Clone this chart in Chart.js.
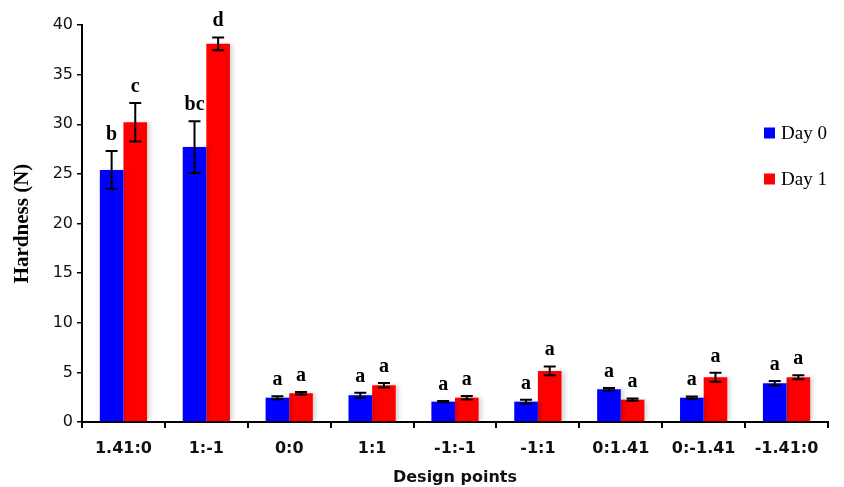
<!DOCTYPE html>
<html>
<head>
<meta charset="utf-8">
<script src="https://cdn.jsdelivr.net/npm/chart.js@4/dist/chart.umd.min.js"></script>
<style>
  html, body { margin: 0; padding: 0; background: #ffffff; }
  #wrap { width: 844px; height: 487px; position: relative; }
</style>
</head>
<body>
<div id="wrap"><canvas id="chart" width="844" height="487"></canvas></div>
<script>
// Design points (x categories)
const categories = ['1.41:0', '1:-1', '0:0', '1:1', '-1:-1', '-1:1', '0:1.41', '0:-1.41', '-1.41:0'];

// Hardness (N), mean values
const day0 = [25.4, 27.7, 2.45, 2.7, 2.05, 2.05, 3.3, 2.45, 3.9];
const day1 = [30.2, 38.1, 2.9, 3.7, 2.45, 5.15, 2.25, 4.5, 4.5];

// Standard deviations
const day0Err = [1.9, 2.6, 0.15, 0.25, 0.07, 0.2, 0.12, 0.12, 0.22];
const day1Err = [1.95, 0.65, 0.12, 0.22, 0.18, 0.45, 0.12, 0.45, 0.2];

// Significance letters
const day0Letters = ['b', 'bc', 'a', 'a', 'a', 'a', 'a', 'a', 'a'];
const day1Letters = ['c', 'd', 'a', 'a', 'a', 'a', 'a', 'a', 'a'];

// Y axis ticks
const yTicks = [0, 5, 10, 15, 20, 25, 30, 35, 40];

const seriesNames = ['Day 0', 'Day 1'];
const seriesColors = ['#0000ff', '#ff0000'];
const errs = [day0Err, day1Err];
const letters = [day0Letters, day1Letters];

// Soft shadow behind the bars
const barShadow = {
  id: 'barShadow',
  beforeDatasetsDraw(chart) {
    const ctx = chart.ctx;
    ctx.save();
    ctx.shadowColor = 'rgba(0,0,0,0.15)';
    ctx.shadowBlur = 4;
    ctx.shadowOffsetX = 3;
    ctx.shadowOffsetY = 0;
  },
  afterDatasetsDraw(chart) {
    chart.ctx.restore();
  }
};

// Error bars and letters above each bar
const errorBars = {
  id: 'errorBars',
  afterDatasetsDraw(chart) {
    const ctx = chart.ctx;
    const y = chart.scales.y;
    ctx.save();
    chart.data.datasets.forEach((ds, i) => {
      const meta = chart.getDatasetMeta(i);
      meta.data.forEach((bar, j) => {
        const v = ds.data[j];
        const e = errs[i][j];
        const top = y.getPixelForValue(v + e);
        const bot = y.getPixelForValue(v - e);
        const x = bar.x;
        ctx.strokeStyle = '#000000';
        ctx.lineWidth = 2;
        ctx.beginPath();
        ctx.moveTo(x, top); ctx.lineTo(x, bot);
        ctx.moveTo(x - 6, top); ctx.lineTo(x + 6, top);
        ctx.moveTo(x - 6, bot); ctx.lineTo(x + 6, bot);
        ctx.stroke();
        ctx.fillStyle = '#000000';
        ctx.font = 'bold 20px "Liberation Serif", "Times New Roman", serif';
        ctx.textAlign = 'center';
        ctx.textBaseline = 'alphabetic';
        ctx.fillText(letters[i][j], x, top - 11);
      });
    });
    ctx.restore();
  }
};

// Legend placed inside the plot on the right
const sideLegend = {
  id: 'sideLegend',
  afterDraw(chart) {
    const ctx = chart.ctx;
    ctx.save();
    const rows = [133, 179];
    seriesNames.forEach((name, i) => {
      ctx.fillStyle = seriesColors[i];
      ctx.fillRect(764, rows[i] - 5.5, 11, 11);
      ctx.fillStyle = '#000000';
      ctx.font = '19px "Liberation Serif", "Times New Roman", serif';
      ctx.textAlign = 'left';
      ctx.textBaseline = 'middle';
      ctx.fillText(name, 781, rows[i] + 1);
    });
    ctx.restore();
  }
};

new Chart(document.getElementById('chart'), {
  type: 'bar',
  data: {
    labels: categories,
    datasets: [
      { label: seriesNames[0], data: day0, backgroundColor: seriesColors[0], borderWidth: 0 },
      { label: seriesNames[1], data: day1, backgroundColor: seriesColors[1], borderWidth: 0 }
    ]
  },
  options: {
    responsive: false,
    animation: false,
    devicePixelRatio: 1,
    layout: { padding: { top: 25, right: 16, left: 0, bottom: 0 } },
    datasets: { bar: { categoryPercentage: 0.57, barPercentage: 1.0 } },
    plugins: {
      legend: { display: false },
      tooltip: { enabled: false }
    },
    scales: {
      x: {
        afterFit(scale) { scale.height = 65; },
        grid: {
          offset: true,
          drawOnChartArea: false,
          drawTicks: true,
          tickLength: 6,
          color: '#000000',
          lineWidth: 2
        },
        border: { display: true, color: '#000000', width: 2 },
        ticks: {
          color: '#111111',
          padding: 11,
          font: { family: '"DejaVu Sans", sans-serif', size: 16, weight: 'bold' }
        },
        title: {
          display: true,
          text: 'Design points',
          color: '#111111',
          padding: { top: 0, bottom: 0 },
          font: { family: '"DejaVu Sans", sans-serif', size: 16, weight: 'bold', lineHeight: 1.2 }
        }
      },
      y: {
        min: 0,
        max: 40,
        afterFit(scale) { scale.width = 82; },
        afterBuildTicks(scale) { scale.ticks = yTicks.map(v => ({ value: v })); },
        grid: {
          drawOnChartArea: false,
          drawTicks: true,
          tickLength: 5,
          color: '#000000',
          lineWidth: 1.5
        },
        border: { display: true, color: '#000000', width: 2 },
        ticks: {
          color: '#111111',
          padding: 4,
          font: { family: '"DejaVu Sans", sans-serif', size: 16 }
        },
        title: {
          display: true,
          text: 'Hardness (N)',
          color: '#000000',
          padding: { top: 10, bottom: 0 },
          font: { family: '"Liberation Serif", "Times New Roman", serif', size: 21, weight: 'bold', lineHeight: 1.2 }
        }
      }
    }
  },
  plugins: [barShadow, errorBars, sideLegend]
});
</script>
</body>
</html>
